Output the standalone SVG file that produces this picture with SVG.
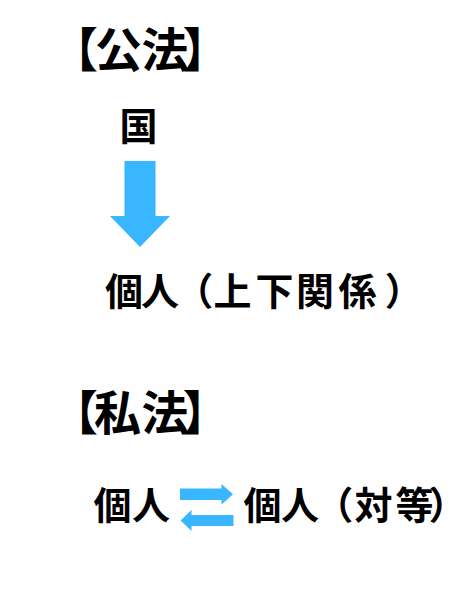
<svg xmlns="http://www.w3.org/2000/svg" width="451" height="600" viewBox="0 0 451 600">
<style>
text { font-family: "Noto Sans CJK JP", "Noto Sans CJK SC", sans-serif; font-weight: bold; fill: #000; text-anchor: middle; font-feature-settings: "palt"; }
.h { font-size: 47px; }
.t { font-size: 38px; }
.arr { fill: #38B6FF; }
</style>
<rect width="451" height="600" fill="#fff"/>
<g id="heading-public"><text class="h" x="85 118.5 165 195.5" y="67">【公法】</text></g>
<g id="node-state"><text class="t" x="138.5" y="140">国</text></g>
<g id="node-individual-hierarchy"><text class="t" x="124 160 202 232.5 274.5 315 357.5 396" y="305">個人（上下関係）</text></g>
<g id="heading-private"><text class="h" x="85 117.5 165 195.5" y="430">【私法】</text></g>
<g id="node-individual-a"><text class="t" x="112.5 151" y="519">個人</text></g>
<g id="node-individual-b"><text class="t" x="262.5 300 342 373.5 414.5 440" y="519">個人（対等）</text></g>
<g id="connectors">
<polygon class="arr" points="124.5,161 155.5,161 155.5,216 170,216 140,247 110,216 124.5,216"/>
<polygon class="arr" points="180,488.5 221.5,488.5 221.5,484 233,494.2 221.5,504.5 221.5,500 180,500"/>
<polygon class="arr" points="233.5,515 191.5,515 191.5,510 180.5,520.5 191.5,531 191.5,526 233.5,526"/>
</g>
</svg>
